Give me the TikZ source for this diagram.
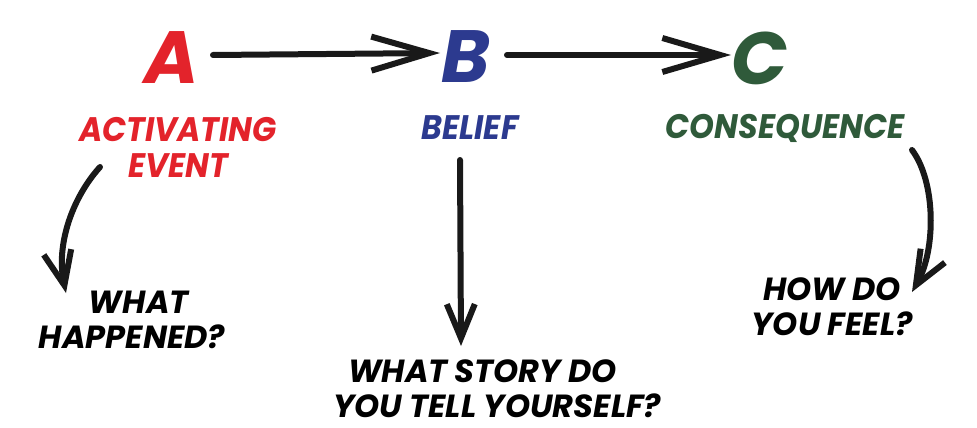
\documentclass[tikz,border=0pt]{standalone}
\usepackage{fontspec}
\setmainfont{Poppins}
\usetikzlibrary{arrows.meta}
\definecolor{ared}{HTML}{E3232B}
\definecolor{bblue}{HTML}{2C3A8F}
\definecolor{cgreen}{HTML}{2F5A3A}
\tikzset{
  big/.style={font=\fontsize{74}{74}\selectfont\bfseries\itshape, inner sep=0pt},
  lbl/.style={font=\fontsize{34}{36}\selectfont\bfseries\itshape, align=center, inner sep=0pt, xscale=0.93},
  qst/.style={font=\fontsize{32}{35}\selectfont\bfseries\itshape, align=left, inner sep=0pt, text=black},
  pen/.style={line width=6pt, line cap=round, black!90},
  hpen/.style={pen, -{Straight Barb[length=58pt,width=34pt,line width=6pt]}},
  vpen/.style={pen, -{Straight Barb[length=34pt,width=28pt,line width=6pt]}}
}
\begin{document}
\begin{tikzpicture}[x=1pt,y=-1pt]
\useasboundingbox (0,0) rectangle (977,428);
\node[big, text=ared] (A) at (172,58) {A};
\node[big, text=bblue] (B) at (466,57) {B};
\node[big, text=cgreen] (C) at (760,58) {C};
\node[lbl, text=ared] (a) at (178,147) {ACTIVATING\\EVENT};
\node[lbl, text=bblue] (b) at (470,128) {BELIEF};
\node[lbl, text=cgreen] (c) at (785,128) {CONSEQUENCE};
\node[qst] (qa) at (132,320) {\hspace*{50pt}WHAT\\HAPPENED?};
\node[qst] (qb) at (497,389) {\hspace*{15pt}WHAT STORY DO\\YOU TELL YOURSELF?};
\node[qst, align=center] (qc) at (832,307) {HOW DO\\YOU FEEL?};
\coordinate (ab1) at (213,55);
\coordinate (ab2) at (440,53);
\coordinate (bc1) at (507,55);
\coordinate (bc2) at (731,55);
\coordinate (a1) at (100,167);
\coordinate (a2) at (66,293);
\coordinate (b1) at (460,160);
\coordinate (b2) at (461,346);
\coordinate (c1) at (912,150);
\coordinate (c2) at (912,292);
\draw[hpen] (ab1) -- (ab2);
\draw[hpen] (bc1) -- (bc2);
\draw[vpen] (a1) .. controls (72,198) and (56,245) .. (a2);
\draw[vpen] (b1) -- (b2);
\draw[vpen] (c1) .. controls (936,182) and (936,250) .. (c2);
\end{tikzpicture}
\end{document}
